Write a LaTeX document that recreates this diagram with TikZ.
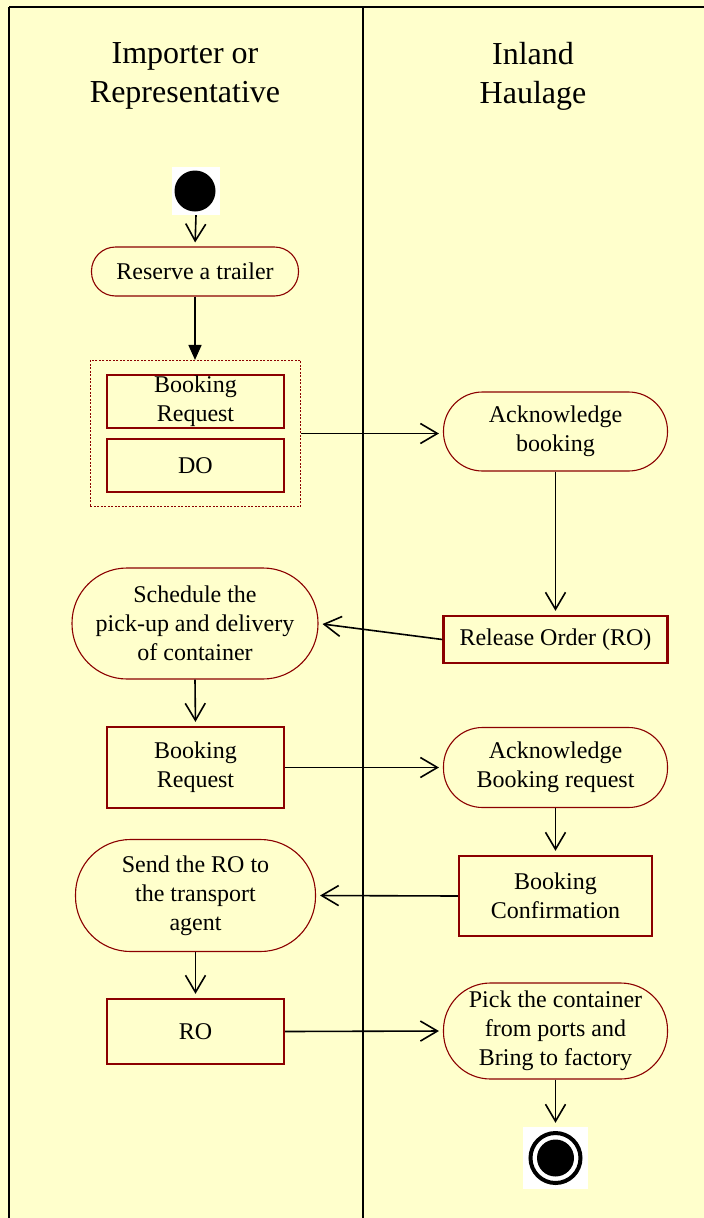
\documentclass[tikz,border=0pt]{standalone}
\usepackage{fontspec}
\setmainfont{Liberation Serif}
\usetikzlibrary{arrows.meta,fit}
\definecolor{lanebg}{HTML}{FFFFCC}
\definecolor{boxred}{HTML}{8B0000}
\begin{document}
\begin{tikzpicture}[x=1pt, y=-1pt,
  lane/.style={line width=2.4pt},
  lanetitle/.style={align=center, font=\fontsize{32}{39}\selectfont},
  action/.style={rectangle, rounded corners=#1, draw=boxred, fill=lanebg, line width=1.1pt, align=center, inner sep=2pt, font=\fontsize{24}{29}\selectfont},
  object/.style={rectangle, draw=boxred, fill=lanebg, line width=2.3pt, align=center, inner sep=2pt, minimum width=177pt, font=\fontsize{24}{29}\selectfont},
  group/.style={draw=boxred, dash pattern=on 2pt off 1.5pt, line width=0.8pt, inner xsep=15.5pt, inner ysep=13.5pt},
  flow/.style={line width=1.6pt, -{Straight Barb[length=17pt, width=20pt]}, shorten >=4pt}]
\fill[lanebg] (0,0) rectangle (704,1218);
\useasboundingbox (0,0) rectangle (704,1218);
\draw[lane] (9,7) -- (704,7);
\draw[lane] (9,7) -- (9,1218);
\draw[lane] (363,7) -- (363,1218);
\node[lanetitle] (importer) at (185,76) {Importer or\\Representative};
\node[lanetitle] (haulage) at (533,76) {Inland\\Haulage};
\node[fill=white, minimum size=48pt, inner sep=0] (start) at (196,191) {};
\fill (195,191) circle (20.5pt);
\node[action=24pt, minimum width=207pt, minimum height=49pt] (reserve) at (195,271.5) {Reserve a trailer};
\node[object, minimum height=53pt, inner ysep=1pt] (request) at (195.5,401.5) {Booking\\Request};
\node[object, minimum height=53pt] (deliveryorder) at (195.5,465.5) {DO};
\node[group, fit=(request)(deliveryorder)] (orders) {};
\node[action=39pt, minimum width=224pt, minimum height=79pt] (ackbooking) at (555.5,431.5) {Acknowledge\\booking};
\node[object, minimum width=224pt, minimum height=47pt] (release) at (555.5,639.5) {Release Order (RO)};
\node[action=55pt, minimum width=246pt, minimum height=111pt] (schedule) at (195,623.5) {Schedule the\\pick-up and delivery\\of container};
\node[object, minimum height=81pt] (request2) at (195.5,767.5) {Booking\\Request};
\node[action=39pt, minimum width=224pt, minimum height=80pt] (ackrequest) at (555.5,767.5) {Acknowledge\\Booking request};
\node[object, minimum width=193pt, minimum height=80pt] (confirm) at (555.5,896) {Booking\\Confirmation};
\node[action=55pt, minimum width=240pt, minimum height=112pt] (sendro) at (195.5,895.5) {Send the RO to\\the transport\\agent};
\node[object, minimum height=65pt] (ro) at (195.5,1031.5) {RO};
\node[action=47pt, minimum width=224pt, minimum height=96pt] (pick) at (555.5,1031) {Pick the container\\from ports and\\Bring to factory};
\node[fill=white, minimum width=65pt, minimum height=62pt, inner sep=0] (final) at (555.5,1158) {};
\draw[line width=4pt] (final.center) circle (25pt);
\fill (final.center) circle (18.5pt);
\draw[flow] (start.south) -- (reserve.north);
\draw[line width=1.6pt, -{Triangle[length=15pt, width=13pt]}] (reserve.south) -- (reserve.south |- orders.north);
\draw[flow] (orders.east) -- (orders.east -| ackbooking.west);
\draw[flow] (ackbooking.south) -- (release.north);
\draw[flow] (release.west) -- (schedule.east);
\draw[flow] (schedule.south) -- (request2.north);
\draw[flow] (request2.east) -- (ackrequest.west);
\draw[flow] (ackrequest.south) -- (confirm.north);
\draw[flow] (confirm.west) -- (sendro.east);
\draw[flow] (sendro.south) -- (ro.north);
\draw[flow] (ro.east) -- (pick.west);
\draw[flow] (pick.south) -- (final.north);
\end{tikzpicture}
\end{document}
